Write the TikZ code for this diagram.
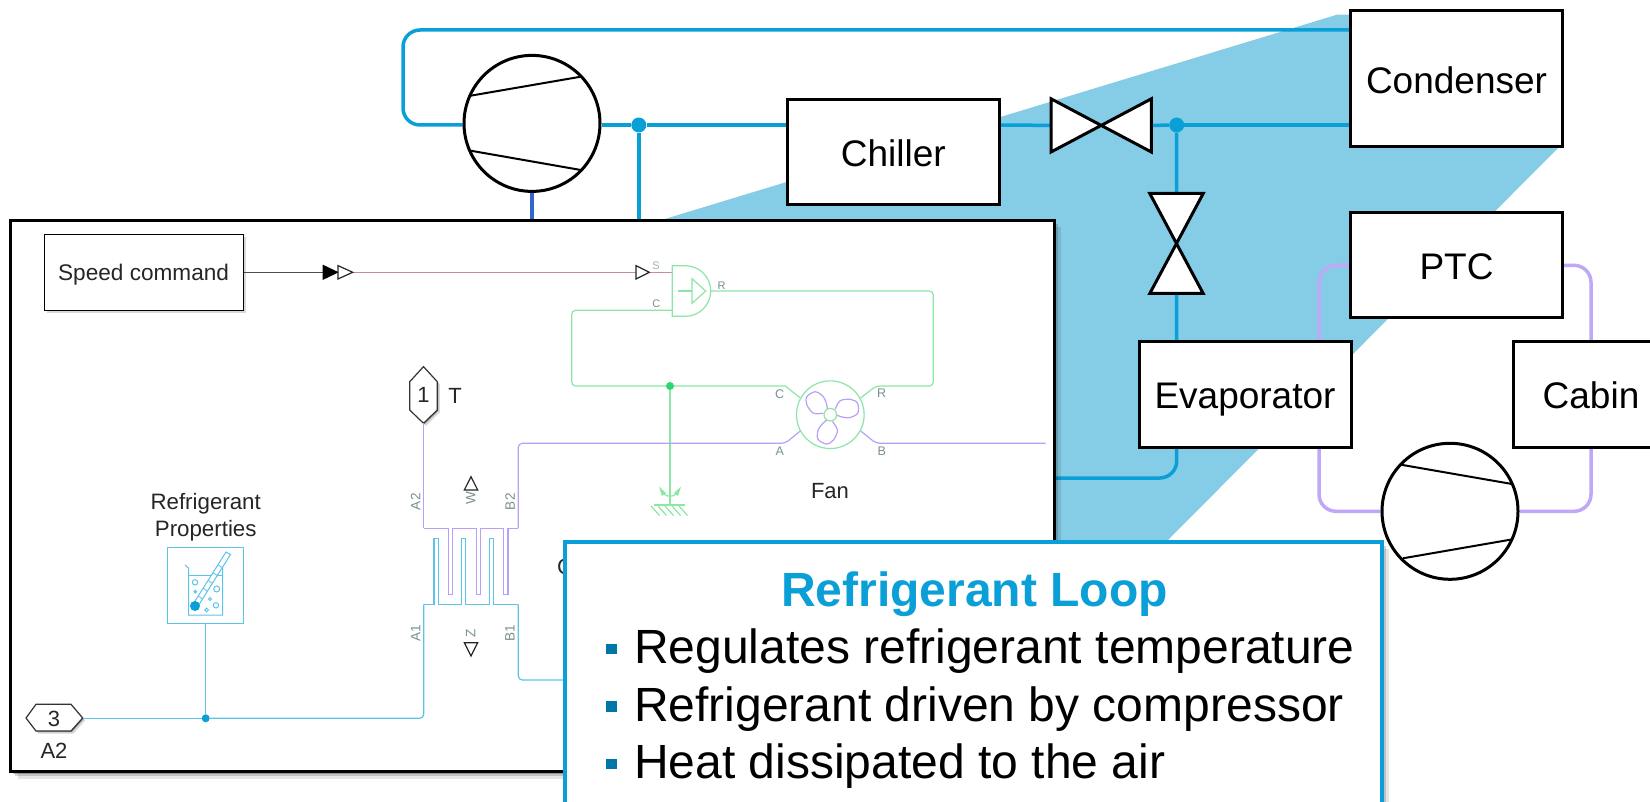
\documentclass[tikz,border=0pt]{standalone}
\usepackage{fontspec}
\setmainfont{Liberation Sans}
\usetikzlibrary{backgrounds,shadows,calc}

\definecolor{pipeblue}{HTML}{0A9FD6}
\definecolor{wedgeblue}{HTML}{85CDE6}
\definecolor{drivenblue}{HTML}{3366CC}
\definecolor{looppurple}{HTML}{C0A8F8}
\definecolor{thinblue}{HTML}{5CC4E8}
\definecolor{thinpurple}{HTML}{B8A0F8}
\definecolor{thingreen}{HTML}{8CE6A4}
\definecolor{dotgreen}{HTML}{2ED573}
\definecolor{signalred}{HTML}{C88C9C}
\definecolor{portgrey}{HTML}{7A9090}
\definecolor{bulletblue}{HTML}{0076A8}

\tikzset{
    softshadow/.style={
        drop shadow={shadow xshift=2pt,shadow yshift=-2pt,opacity=.22,fill=black},
        drop shadow={shadow xshift=4pt,shadow yshift=-4pt,opacity=.16,fill=black},
        drop shadow={shadow xshift=7pt,shadow yshift=-7pt,opacity=.10,fill=black}},
    smallshadow/.style={
        drop shadow={shadow xshift=1pt,shadow yshift=-1pt,opacity=.3,fill=black},
        drop shadow={shadow xshift=2.5pt,shadow yshift=-2.5pt,opacity=.15,fill=black}},
    loopbox/.style={draw,line width=3,fill=white,inner sep=0,text height=29,text depth=0,font=\fontsize{37}{44}\selectfont},
    comp/.style={draw,circle,line width=3,fill=white,inner sep=0,minimum size=136},
    bowtie/.style={draw,line width=3,fill=white,line join=miter},
    pipe/.style={pipeblue,line width=3.5},
    airpipe/.style={looppurple,line width=3.5},
    jn/.style={circle,fill=pipeblue,inner sep=0,minimum size=15},
    wirepurple/.style={thinpurple,line width=1.2,rounded corners=4},
    wireblue/.style={thinblue,line width=1.2,rounded corners=4},
    wiregreen/.style={thingreen,line width=1.2,rounded corners=4},
    portlabel/.style={text=portgrey,font=\fontsize{12.5}{14}\selectfont,inner sep=0},
    simtext/.style={text=black!85,font=\fontsize{22}{26}\selectfont,inner sep=0},
    portmark/.style={draw=black!85,line width=1.2,fill=white,line join=miter}
}

\begin{document}
\begin{tikzpicture}[x=1pt,y=-1pt]
    \useasboundingbox (0,0) rectangle (1650,802);

    %loop blocks
    \node[loopbox,minimum width=212,minimum height=105] (chiller) at (893.3,152.2) {Chiller};
    \node[loopbox,minimum width=212,minimum height=136] (condenser) at (1456.5,78.9) {Condenser};
    \node[loopbox,minimum width=212,minimum height=105] (ptc) at (1456.5,265.3) {PTC};
    \node[loopbox,minimum width=212,minimum height=105] (evaporator) at (1245,394.5) {Evaporator};
    \node[loopbox,minimum width=156,minimum height=105] (cabin) at (1591,394.5) {Cabin};

    %compressors
    \node[comp] (compOne) at (532,123.4) {};
    \draw[line width=2] (470.6,95.7) -- (580.8,76.7);
    \draw[line width=2] (470.6,150.7) -- (580.8,170);
    \node[comp] (compTwo) at (1450,511.3) {};
    \draw[line width=2] (1400.9,464.7) -- (1512,484);
    \draw[line width=2] (1403,558.3) -- (1512.6,539.3);

    %valves
    \node[minimum width=99.7,minimum height=52.7,inner sep=0] (valveH) at (1101.2,125.4) {};
    \draw[bowtie] (valveH.north west) -- (valveH.south east) -- (valveH.north east) -- (valveH.south west) -- cycle;
    \node[minimum width=53,minimum height=99.6,inner sep=0] (valveV) at (1176.5,243.5) {};
    \draw[bowtie] (valveV.north west) -- (valveV.north east) -- (valveV.south west) -- (valveV.south east) -- cycle;

    %junctions on the refrigerant line
    \node[jn] (jnComp) at (638.8,125) {};
    \node[jn] (jnValve) at (1176.7,125) {};
    \coordinate (panelTopA) at (532,220);
    \coordinate (panelTopB) at (638.8,220);
    \coordinate (panelRight) at (1054,478);

    \begin{scope}[on background layer]
        \fill[wedgeblue] (661.5,220) -- (1337,14.7) -- (1400,14.7) -- (1558,148) -- (1168,540) -- (800,540) -- cycle;

        %refrigerant pipes
        \draw[pipe,rounded corners=17] (compOne.west |- jnComp) -- (403,125) -- (403,30) -- (condenser.west |- 0,30);
        \draw[pipe] (jnComp) -- (compOne.east |- jnComp);
        \draw[pipe] (jnComp) -- (chiller.west |- jnComp);
        \draw[pipe] (jnComp) -- (panelTopB);
        \draw[pipe] (chiller.east |- jnComp) -- (valveH.west);
        \draw[pipe] (valveH.east) -- (jnValve);
        \draw[pipe] (jnValve) -- (condenser.west |- jnValve);
        \draw[pipe] (jnValve) -- (valveV.north);
        \draw[pipe] (valveV.south) -- (jnValve |- evaporator.north);
        \draw[pipe,rounded corners=17] (jnValve |- evaporator.south) -- (jnValve |- panelRight) -- (panelRight);
        \draw[drivenblue,line width=3.5] (compOne.south) -- (panelTopA);

        %air loop
        \draw[airpipe,rounded corners=17] (ptc.west) -- (1319,0 |- ptc.west) -- (1319,0 |- evaporator.north);
        \draw[airpipe,rounded corners=17] (1319,0 |- evaporator.south) -- (1319,0 |- compTwo.west) -- (compTwo.west);
        \draw[airpipe,rounded corners=17] (ptc.east) -- (cabin.north |- ptc.east) -- (cabin.north);
        \draw[airpipe,rounded corners=17] (compTwo.east) -- (cabin.south |- compTwo.east) -- (cabin.south);
    \end{scope}

    %model window
    \node[draw,line width=3,fill=white,softshadow,inner sep=0,minimum width=1043.3,minimum height=551.7] (panel) at (532.4,496) {};

    %speed command
    \node[draw,line width=1.2,fill=white,smallshadow,inner sep=0,minimum width=199,minimum height=76,text height=16,text depth=0,
          text=black!85,font=\fontsize{22.6}{26}\selectfont] (speedCmd) at (143.6,272.3) {Speed command};
    \coordinate (convIn) at (323.3,272.3);
    \coordinate (convOut) at (352.7,272.3);
    \coordinate (markS) at (636,272.3);
    \coordinate (ctrlS) at (672.3,272.3);
    \draw[black!70,line width=1.2] (speedCmd.east) -- (convIn);
    \draw[signalred,line width=1.2] (convOut) -- (markS);
    \draw[signalred,line width=1.2] (markS) -- (ctrlS);
    \draw[draw=black,fill=black,line width=1.2] (convIn) -- ++(0,-6.7) -- ++(14,6.7) -- ++(-14,6.7) -- cycle;
    \draw[portmark] (338,272.3) -- ++(0,-6.7) -- ++(14.7,6.7) -- ++(-14.7,6.7) -- cycle;
    \draw[portmark] (markS) -- ++(0,-6.7) -- ++(13.3,6.7) -- ++(-13.3,6.7) -- cycle;
    \node[portlabel,text=portgrey!70,font=\fontsize{11}{13}\selectfont] (labS) at (656,266) {S};

    %fan controller
    \coordinate (ctrlC) at (672.3,310.3);
    \coordinate (ctrlR) at (710.7,291);
    \draw[thingreen,line width=1.2] (672.3,265.7) -- (685.4,265.7) arc[start angle=-90,end angle=90,radius=25.3] -- (672.3,316.3) -- cycle;
    \draw[thingreen,line width=1.2] (692,278.7) -- (705.7,291) -- (692,303.3) -- cycle;
    \draw[thingreen,line width=1.2] (678.3,291) -- (692,291);
    \node[portlabel,font=\fontsize{11}{13}\selectfont] (labCtrlC) at (656.3,304) {C};
    \node[portlabel,font=\fontsize{11}{13}\selectfont] (labCtrlR) at (721.7,285.3) {R};

    %fan
    \node[draw=thingreen,line width=1.2,circle,fill=white,inner sep=0,minimum size=67.7] (fan) at (830.3,414.7) {};
    \begin{scope}[shift={(830.3,414.7)}]
        \foreach \bladeRot in {0,120,240}
            \draw[thinpurple,line width=1.2,rotate=\bladeRot] plot[smooth] coordinates
                {(-7,-1.5) (-17,-1.5) (-23.5,-10) (-23.5,-18) (-15,-23) (-7,-18) (-3.5,-10) (-3,-5.5)};
    \end{scope}
    \node[draw=thingreen,line width=1.2,circle,fill=white,inner sep=0,minimum size=12.6] (fanHub) at (830.3,414.7) {};
    \node[simtext] (fanName) at (830,491) {Fan};
    \node[portlabel] (labFanC) at (779.7,393.7) {C};
    \node[portlabel] (labFanR) at (881.7,393.7) {R};
    \node[portlabel] (labFanA) at (779.7,450.7) {A};
    \node[portlabel] (labFanB) at (881.7,450.7) {B};

    %mechanical reference
    \node[circle,fill=dotgreen,inner sep=0,minimum size=8] (jnRef) at (670,386) {};
    \coordinate (refGnd) at (670,505);
    \draw[wiregreen] (ctrlR) -- (933.3,291) -- (933.3,386) -- (876,386) -- (860.7,398);
    \draw[wiregreen] (ctrlC) -- (571.7,310.3) -- (571.7,386) -- (jnRef);
    \draw[wiregreen,rounded corners=0] (jnRef) -- (785.3,386) -- (800.3,398);
    \draw[wiregreen] (jnRef) -- (refGnd);
    \draw[wiregreen] (654,505) -- (685.3,505);
    \foreach \hx in {651,658,665,672,679}
        \draw[thingreen,line width=1.2] (\hx,506) -- ++(8.5,9.5);
    \draw[thingreen,line width=1.2] (664,494) .. controls (667,497) and (673,497) .. (676,494);
    \fill[thingreen] (659,486.7) -- (666,493) -- (662,496) -- cycle;
    \fill[thingreen] (681,486.7) -- (674,493) -- (678,496) -- cycle;

    %heat exchanger
    \coordinate (combA) at (423.7,528.3);
    \coordinate (combB) at (518.3,528.3);
    \coordinate (combC) at (423.7,604.3);
    \coordinate (combD) at (518.3,604.3);
    \draw[wirepurple,rounded corners=0] (combA) -- (448.3,528.3) -- (448.3,594.3) -- (452.3,594.3) -- (452.3,528.3)
        -- (476.3,528.3) -- (476.3,594.3) -- (480.3,594.3) -- (480.3,528.3)
        -- (503.7,528.3) -- (503.7,594.3) -- (508,594.3) -- (508,528.3) -- (combB);
    \draw[wireblue,rounded corners=0] (combC) -- (434,604.3) -- (434,538.3) -- (438.3,538.3) -- (438.3,604.3)
        -- (461.7,604.3) -- (461.7,538.3) -- (465.7,538.3) -- (465.7,604.3)
        -- (489.3,604.3) -- (489.3,538.3) -- (493.7,538.3) -- (493.7,604.3) -- (combD);
    \draw[wirepurple] (combB) -- (518.3,443.3) -- (785.3,443.3) -- (800.3,431);
    \draw[wirepurple] (860.7,431) -- (876,443.3) -- (1045.7,443.3);
    \node[portlabel,rotate=90,font=\fontsize{13.6}{16}\selectfont] (labA2) at (415.7,501.7) {A2};
    \node[portlabel,rotate=90,font=\fontsize{13.6}{16}\selectfont] (labB2) at (510,501.7) {B2};
    \node[portlabel,rotate=90,font=\fontsize{13.6}{16}\selectfont] (labA1) at (415.7,633.3) {A1};
    \node[portlabel,rotate=90,font=\fontsize{13.6}{16}\selectfont] (labB1) at (510,633.3) {B1};
    \node[portlabel,rotate=90,font=\fontsize{13.6}{16}\selectfont] (labW) at (470.7,498.5) {W};
    \node[portlabel,rotate=90,font=\fontsize{13.6}{16}\selectfont] (labZ) at (470.7,633) {Z};
    \draw[portmark] (471,476.7) -- (477.7,490) -- (464.3,490) -- cycle;
    \draw[portmark] (471,656) -- (477.7,642.7) -- (464.3,642.7) -- cycle;
    \node[simtext,anchor=base west] (labCut) at (557,574) {C};

    %port T
    \draw[line width=1.2,draw=black!80,fill=white,smallshadow,line join=miter] (423.5,366.7) -- (437.3,381.7) -- (437.3,410) -- (423.5,423.3) -- (409.7,410) -- (409.7,381.7) -- cycle;
    \node[simtext] (portT) at (423.5,395) {1};
    \coordinate (portTtip) at (423.7,423.3);
    \node[simtext] (portTname) at (455,396) {T};
    \draw[wirepurple] (portTtip) -- (combA);

    %port A2
    \draw[line width=1.2,draw=black!80,fill=white,smallshadow,line join=miter] (26,718) -- (36,704.3) -- (71,704.3) -- (82.7,718) -- (71,731) -- (36,731) -- cycle;
    \node[simtext] (portA) at (54,718.5) {3};
    \node[simtext] (portAname) at (54,751) {A2};
    \coordinate (portAtip) at (82.7,718.3);

    %refrigerant properties
    \node[simtext,align=center,font=\fontsize{22.3}{26.6}\selectfont] (propName) at (205.7,517.5) {Refrigerant\\Properties};
    \node[draw=thinblue,line width=1.2,fill=white,inner sep=0,minimum size=76] (props) at (205.7,585.3) {};
    \draw[thinblue,line width=1] (185,565) -- (188.7,568.3) -- (188.7,615) -- (222.7,615) -- (222.7,565) -- (226,562);
    \draw[thinblue,line width=1] (188.7,575) -- (222.7,575);
    \draw[thinblue,line width=1,fill=white] (193.5,603.5) -- (226,552) -- (230.5,554.5) -- (197.5,607) -- cycle;
    \foreach \ty in {0.15,0.3,0.45,0.6,0.75}
        \draw[thinblue,line width=.8] ($(193.5,603.5)!\ty!(226,552)$) -- ($(197.5,607)!\ty!(230.5,554.5)$);
    \foreach \bx/\by/\br in {195/582.3/2.7,195.3/591.7/1.3,216.7/589/3,210/599/1.5,216/605.3/2.7,206.7/610/1.8}
        \draw[thinblue,line width=1] (\bx,\by) circle[radius=\br];
    \fill[pipeblue] (195,606) circle[radius=5];
    \node[circle,fill=pipeblue,inner sep=0,minimum size=8] (jnProps) at (205.7,718.3) {};
    \draw[wireblue] (props.south) -- (jnProps);
    \draw[wireblue] (portAtip) -- (jnProps);
    \draw[wireblue] (jnProps) -- (423.7,718.3) -- (combC);
    \draw[wireblue] (combD) -- (518.3,680) -- (564,680);

    %text box
    \node[draw=pipeblue,line width=4,fill=white,softshadow,inner sep=0,minimum width=817.3,minimum height=300] (infoBox) at (973.3,692.3) {};
    \node[anchor=base,text=pipeblue,inner sep=0,font=\fontsize{48}{56}\selectfont\bfseries] (infoTitle) at (974.5,606) {Refrigerant Loop};
    \foreach \nm/\by/\txt in {one/663.7/Regulates refrigerant temperature,two/721.3/Refrigerant driven by compressor,three/778.7/Heat dissipated to the air}{
        \fill[bulletblue] (606,\by-20) rectangle (617,\by-9.5);
        \node[anchor=base west,inner sep=0,font=\fontsize{48}{56}\selectfont] (item\nm) at (634,\by) {\txt};
    }
\end{tikzpicture}
\end{document}
